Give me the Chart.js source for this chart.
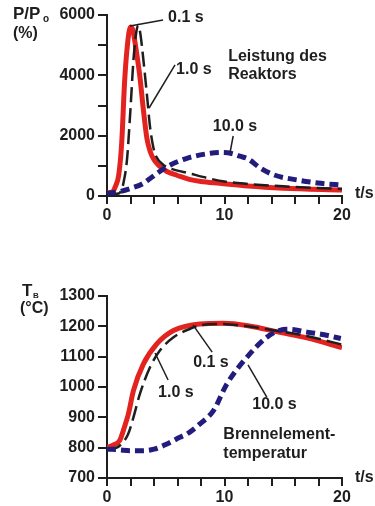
<!DOCTYPE html>
<html>
<head>
<meta charset="utf-8">
<script src="https://cdn.jsdelivr.net/npm/chart.js@4/dist/chart.umd.min.js"></script>
<style>
  body { margin: 0; background: #fff; width: 375px; height: 506px; overflow: hidden; position: relative; }
  canvas { position: absolute; left: 0; }
  #power { top: 0; }
  #temp { top: 250px; }
</style>
</head>
<body>
<canvas id="power" width="375" height="250"></canvas>
<canvas id="temp" width="375" height="256"></canvas>
<script>
// Reaktorleistung P/Po (%) ueber t/s
const powRedT = [0, 0.5, 0.7, 1.0, 1.25, 1.5, 1.75, 2.0, 2.2, 2.4, 2.8, 3.1, 3.4, 3.7, 4.0, 4.5, 5.1, 6, 7, 8, 9.6, 12, 15, 20];
const powRedV = [100, 150, 300, 700, 1750, 3800, 5050, 5600, 5500, 5050, 3950, 2850, 1900, 1450, 1200, 980, 810, 680, 550, 480, 420, 330, 260, 200];

const powBlackT = [0, 1.0, 1.2, 1.4, 1.7, 2.0, 2.25, 2.5, 2.67, 2.85, 3.1, 3.4, 3.66, 3.95, 4.2, 4.8, 5.5, 7, 8.5, 10, 12, 15, 20];
const powBlackV = [50, 80, 180, 430, 1200, 2900, 4500, 5450, 5670, 5350, 4500, 3350, 2300, 1600, 1300, 1030, 900, 750, 600, 480, 400, 320, 230];

const powBlueT = [0, 1, 2, 3, 3.7, 5.1, 6.8, 8.8, 9.8, 10.6, 11.3, 12, 13, 14.2, 16.2, 18.2, 20];
const powBlueV = [80, 140, 250, 400, 590, 970, 1250, 1415, 1440, 1410, 1320, 1230, 940, 700, 530, 420, 360];

// Brennelementtemperatur TB (°C) ueber t/s
const tmpRedT = [0, 0.5, 1.1, 1.5, 1.82, 2.25, 3.1, 4.24, 5.66, 7.9, 9.9, 12, 14.7, 17, 20];
const tmpRedV = [800, 808, 825, 870, 911, 988, 1076, 1142, 1186, 1208, 1210, 1202, 1180, 1162, 1130];

const tmpBlackT = [0, 0.8, 1.3, 1.8, 2.25, 2.8, 3.66, 4.5, 5.66, 7.07, 7.9, 9.6, 12, 14, 17, 20];
const tmpBlackV = [798, 800, 815, 845, 900, 977, 1065, 1120, 1164, 1192, 1203, 1208, 1200, 1188, 1168, 1140];

const tmpBlueT = [0, 1, 2, 3.1, 4, 5.1, 6.2, 6.8, 7.9, 9.06, 10.2, 11.9, 13.6, 14.7, 15.5, 17, 18.5, 19.9];
const tmpBlueV = [795, 793, 790, 790, 795, 812, 834, 845, 878, 922, 1010, 1098, 1164, 1187, 1190, 1181, 1172, 1160];

const ink = '#1e1e1e';
const red = '#e3231f';
const navy = '#221d7c';
const fontFam = '"Liberation Sans", Arial, Helvetica, sans-serif';

function pts(ts, vs) {
  return ts.map((t, i) => ({ x: t, y: vs[i] }));
}

function series(ts, vs, kind) {
  const base = { data: pts(ts, vs), pointRadius: 0, fill: false, cubicInterpolationMode: 'monotone', tension: 0.4 };
  if (kind === 'red') return { ...base, borderColor: red, borderWidth: 5, order: 3 };
  if (kind === 'black') return { ...base, borderColor: ink, borderWidth: 2.5, borderDash: [15, 6], order: 2 };
  return { ...base, borderColor: navy, borderWidth: 5, borderDash: [9, 5], order: 1 };
}

// Beschriftungen und Hinweislinien (in Datenkoordinaten)
const annot = {
  id: 'annot',
  afterDatasetsDraw(chart, args, opts) {
    const ctx = chart.ctx;
    const xs = chart.scales.x, ys = chart.scales.y;
    ctx.save();
    ctx.strokeStyle = ink;
    ctx.fillStyle = ink;
    ctx.lineWidth = 1.5;
    opts.lines.forEach(l => {
      ctx.beginPath();
      ctx.moveTo(xs.getPixelForValue(l[0]), ys.getPixelForValue(l[1]));
      ctx.lineTo(xs.getPixelForValue(l[2]), ys.getPixelForValue(l[3]));
      ctx.stroke();
    });
    ctx.font = 'bold 16px ' + fontFam;
    ctx.textBaseline = 'middle';
    ctx.textAlign = 'left';
    opts.texts.forEach(t => {
      ctx.fillText(t[2], xs.getPixelForValue(t[0]), ys.getPixelForValue(t[1]));
    });
    // Achsentitel
    opts.titles.forEach(t => {
      ctx.font = 'bold ' + t[3] + 'px ' + fontFam;
      ctx.fillText(t[2], t[0], t[1]);
    });
    ctx.restore();
  }
};

function makeChart(id, datasets, yMin, yMax, yStep, yLabelStep, areaTop, areaBottom, annotOpts) {
  const canvas = document.getElementById(id);
  const h = canvas.height;
  return new Chart(canvas, {
    type: 'line',
    data: { datasets },
    plugins: [annot],
    options: {
      responsive: false,
      animation: false,
      layout: { padding: { left: 0, right: 33, top: areaTop, bottom: 0 } },
      plugins: { legend: { display: false }, tooltip: { enabled: false }, annot: annotOpts },
      scales: {
        x: {
          type: 'linear', min: 0, max: 20,
          afterFit: s => { s.height = h - areaBottom; },
          border: { display: true, color: ink, width: 2 },
          grid: { drawOnChartArea: false, drawTicks: true, tickLength: 8, color: ink, lineWidth: 2 },
          ticks: {
            stepSize: 2, autoSkip: false, maxRotation: 0, padding: 2, color: ink,
            font: { family: fontFam, size: 16, weight: 'bold' },
            callback: v => (v % 10 === 0 ? String(v) : '')
          }
        },
        y: {
          min: yMin, max: yMax,
          afterFit: s => { s.width = 107; },
          border: { display: true, color: ink, width: 2 },
          grid: { drawOnChartArea: false, drawTicks: true, tickLength: 9, color: ink, lineWidth: 2 },
          ticks: {
            stepSize: yStep, autoSkip: false, padding: 3, color: ink,
            font: { family: fontFam, size: 16, weight: 'bold' },
            callback: v => (v % yLabelStep === 0 ? String(v) : '')
          }
        }
      }
    }
  });
}

makeChart('power', [
  series(powRedT, powRedV, 'red'),
  series(powBlackT, powBlackV, 'black'),
  series(powBlueT, powBlueV, 'blue')
], 0, 6000, 1000, 2000, 15, 196, {
  lines: [
    [1.96, 5635, 4.77, 5834],
    [3.58, 2917, 5.79, 4343],
    [10.74, 1989, 10.48, 1459]
  ],
  texts: [
    [5.2, 5900, '0.1 s'],
    [5.88, 4177, '1.0 s'],
    [9.0, 2287, '10.0 s'],
    [10.31, 4608, 'Leistung des'],
    [10.31, 4011, 'Reaktors']
  ],
  titles: [
    [13, 14, 'P/P', 17],
    [43, 19, 'o', 10],
    [13, 34, '(%)', 16],
    [355, 194, 't/s', 16]
  ]
});

makeChart('temp', [
  series(tmpRedT, tmpRedV, 'red'),
  series(tmpBlackT, tmpBlackV, 'black'),
  series(tmpBlueT, tmpBlueV, 'blue')
], 700, 1300, 100, 100, 46, 228, {
  lines: [
    [7.33, 1204, 8.95, 1115],
    [4.09, 1112, 5.2, 1023],
    [12.0, 1073, 13.6, 967]
  ],
  texts: [
    [7.33, 1082, '0.1 s'],
    [4.35, 980, '1.0 s'],
    [12.36, 941, '10.0 s'],
    [9.9, 842, 'Brennelement-'],
    [9.9, 782, 'temperatur']
  ],
  titles: [
    [22, 41, 'T', 17],
    [33, 46, 'B', 8],
    [20, 59, '(°C)', 16],
    [355, 228, 't/s', 16]
  ]
});
</script>
</body>
</html>
